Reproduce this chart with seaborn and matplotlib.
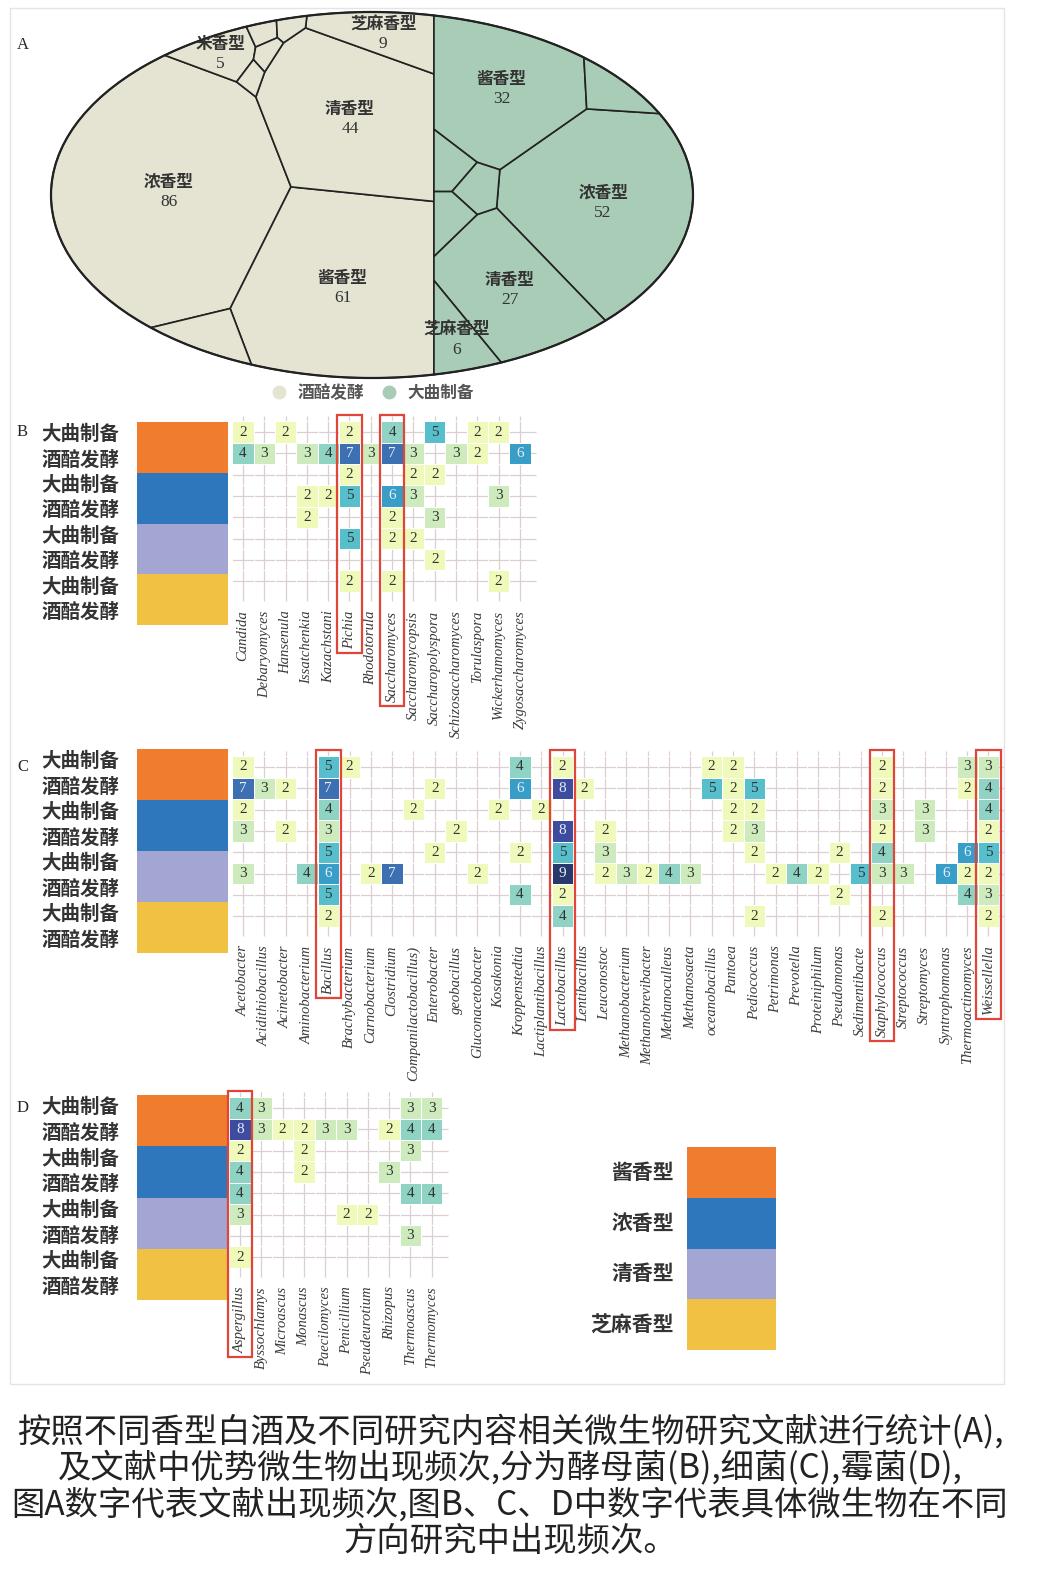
import numpy as np
import pandas as pd
import matplotlib
matplotlib.use('Agg')
import matplotlib.pyplot as plt
import seaborn as sns
from matplotlib.colors import ListedColormap
from matplotlib.patches import Rectangle, Ellipse
from matplotlib.lines import Line2D

# ------------------------------------------------------------------ #
# panel A: number of papers per flavour type (two groups)
ferment_names = ['浓香型', '酱香型', '清香型', '芝麻香型', '米香型', '', '', '', '', '']
ferment_counts = [86, 61, 44, 9, 5, 5, 1, 1, 1, 1]
daqu_names = ['浓香型', '酱香型', '清香型', '芝麻香型', '', '', '', '']
daqu_counts = [52, 32, 27, 6, 4, 3, 3, 3]
group_names = ['酒醅发酵', '大曲制备']

# panels B-D: occurrences of genera
row_labels = ['大曲制备', '酒醅发酵'] * 4
flavor_names = ['酱香型', '浓香型', '清香型', '芝麻香型']

yeast_genera = ['Candida', 'Debaryomyces', 'Hansenula', 'Issatchenkia', 'Kazachstani',
                'Pichia', 'Rhodotorula', 'Saccharomyces', 'Saccharomycopsis',
                'Saccharopolyspora', 'Schizosaccharomyces', 'Torulaspora',
                'Wickerhamomyces', 'Zygosaccharomyces']
yeast_counts = [
    [2, 0, 2, 0, 0, 2, 0, 4, 0, 5, 0, 2, 2, 0],
    [4, 3, 0, 3, 4, 7, 3, 7, 3, 0, 3, 2, 0, 6],
    [0, 0, 0, 0, 0, 2, 0, 0, 2, 2, 0, 0, 0, 0],
    [0, 0, 0, 2, 2, 5, 0, 6, 3, 0, 0, 0, 3, 0],
    [0, 0, 0, 2, 0, 0, 0, 2, 0, 3, 0, 0, 0, 0],
    [0, 0, 0, 0, 0, 5, 0, 2, 2, 0, 0, 0, 0, 0],
    [0, 0, 0, 0, 0, 0, 0, 0, 0, 2, 0, 0, 0, 0],
    [0, 0, 0, 0, 0, 2, 0, 2, 0, 0, 0, 0, 2, 0],
]
yeast_marked = ['Pichia', 'Saccharomyces']

bacteria_genera = ['Acetobacter', 'Acidithiobacillus', 'Acinetobacter', 'Aminobacterium',
                   'Bacillus', 'Brachybacterium', 'Carnobacterium', 'Clostridium',
                   'Companilactobacillus)', 'Enterobacter', 'geobacillus',
                   'Gluconacetobacter', 'Kosakonia', 'Kroppenstedtia',
                   'Lactiplantibacillus', 'Lactobacillus', 'Lentibacillus', 'Leuconostoc',
                   'Methanobacterium', 'Methanobrevibacter', 'Methanoculleus',
                   'Methanosaeta', 'oceanobacillus', 'Pantoea', 'Pediococcus',
                   'Petrimonas', 'Prevotella', 'Proteiniphilum', 'Pseudomonas',
                   'Sedimentibacte', 'Staphylococcus', 'Streptococcus', 'Streptomyces',
                   'Syntrophomonas', 'Thermoactinomyces', 'Weissellella']
bacteria_counts = [
    [2, 0, 0, 0, 5, 2, 0, 0, 0, 0, 0, 0, 0, 4, 0, 2, 0, 0, 0, 0,
     0, 0, 2, 2, 0, 0, 0, 0, 0, 0, 2, 0, 0, 0, 3, 3],
    [7, 3, 2, 0, 7, 0, 0, 0, 0, 2, 0, 0, 0, 6, 0, 8, 2, 0, 0, 0,
     0, 0, 5, 2, 5, 0, 0, 0, 0, 0, 2, 0, 0, 0, 2, 4],
    [2, 0, 0, 0, 4, 0, 0, 0, 2, 0, 0, 0, 2, 0, 2, 0, 0, 0, 0, 0,
     0, 0, 0, 2, 2, 0, 0, 0, 0, 0, 3, 0, 3, 0, 0, 4],
    [3, 0, 2, 0, 3, 0, 0, 0, 0, 0, 2, 0, 0, 0, 0, 8, 0, 2, 0, 0,
     0, 0, 0, 2, 3, 0, 0, 0, 0, 0, 2, 0, 3, 0, 0, 2],
    [0, 0, 0, 0, 5, 0, 0, 0, 0, 2, 0, 0, 0, 2, 0, 5, 0, 3, 0, 0,
     0, 0, 0, 0, 2, 0, 0, 0, 2, 0, 4, 0, 0, 0, 6, 5],
    [3, 0, 0, 4, 6, 0, 2, 7, 0, 0, 0, 2, 0, 0, 0, 9, 0, 2, 3, 2,
     4, 3, 0, 0, 0, 2, 4, 2, 0, 5, 3, 3, 0, 6, 2, 2],
    [0, 0, 0, 0, 5, 0, 0, 0, 0, 0, 0, 0, 0, 4, 0, 2, 0, 0, 0, 0,
     0, 0, 0, 0, 0, 0, 0, 0, 2, 0, 0, 0, 0, 0, 4, 3],
    [0, 0, 0, 0, 2, 0, 0, 0, 0, 0, 0, 0, 0, 0, 0, 4, 0, 0, 0, 0,
     0, 0, 0, 0, 2, 0, 0, 0, 0, 0, 2, 0, 0, 0, 0, 2],
]
bacteria_marked = ['Bacillus', 'Lactobacillus', 'Staphylococcus', 'Weissellella']

mould_genera = ['Aspergillus', 'Byssochlamys', 'Microascus', 'Monascus', 'Paecilomyces',
                'Penicillium', 'Pseudeurotium', 'Rhizopus', 'Thermoascus', 'Thermomyces']
mould_counts = [
    [4, 3, 0, 0, 0, 0, 0, 0, 3, 3],
    [8, 3, 2, 2, 3, 3, 0, 2, 4, 4],
    [2, 0, 0, 2, 0, 0, 0, 0, 3, 0],
    [4, 0, 0, 2, 0, 0, 0, 3, 0, 0],
    [4, 0, 0, 0, 0, 0, 0, 0, 4, 4],
    [3, 0, 0, 0, 0, 2, 2, 0, 0, 0],
    [0, 0, 0, 0, 0, 0, 0, 0, 3, 0],
    [2, 0, 0, 0, 0, 0, 0, 0, 0, 0],
]
mould_marked = ['Aspergillus']

caption = ['按照不同香型白酒及不同研究内容相关微生物研究文献进行统计(A),',
           '及文献中优势微生物出现频次,分为酵母菌(B),细菌(C),霉菌(D),',
           '图A数字代表文献出现频次,图B、C、D中数字代表具体微生物在不同',
           '方向研究中出现频次。']

# ------------------------------------------------------------------ #
W, H = 1040, 1593
flavor_colors = ['#ef7d2d', '#2f77bd', '#a3a5d3', '#f1c143']
group_colors = ['#e5e3d1', '#a9ccb6']
# YlGnBu classes, slightly faded towards white like the printed figure
ylgnbu = plt.get_cmap('YlGnBu')(np.linspace(0, 1, 9))[:, :3]
heat_cmap = ListedColormap(ylgnbu * 0.88 + 0.12)
serif = ['Liberation Serif', 'DejaVu Serif']
cjk = ['Noto Sans CJK SC', 'DejaVu Sans']

sns.set_style('white')
plt.rcParams['font.family'] = cjk

fig = plt.figure(figsize=(W / 100, H / 100), dpi=100)


def px_axes(x0, y0, x1, y1):
    return fig.add_axes([x0 / W, 1 - y1 / H, (x1 - x0) / W, (y1 - y0) / H])


def fx(x):
    return x / W


def fy(y):
    return 1 - y / H


# ---------------------- power diagram helpers ---------------------- #
def clip(poly, a, b):
    if len(poly) == 0:
        return poly
    f = poly @ a - b
    nxt = np.roll(poly, -1, axis=0)
    fn = np.roll(f, -1)
    inside = f <= 0
    cross = (f * fn) < 0
    t = f / np.where(cross, f - fn, 1.0)
    inter = poly + t[:, None] * (nxt - poly)
    pts = np.stack([poly, inter], axis=1)
    keep = np.stack([inside, cross], axis=1)
    return pts[keep]


def poly_area(p):
    if len(p) < 3:
        return 0.0
    x, y = p[:, 0], p[:, 1]
    return 0.5 * abs(np.dot(x, np.roll(y, -1)) - np.dot(y, np.roll(x, -1)))


def poly_centroid(p):
    x, y = p[:, 0], p[:, 1]
    xn, yn = np.roll(x, -1), np.roll(y, -1)
    cr = x * yn - xn * y
    A = cr.sum() / 2
    return np.array([((x + xn) * cr).sum() / (6 * A), ((y + yn) * cr).sum() / (6 * A)])


def power_cells(region, seeds, w):
    cells = []
    for i in range(len(seeds)):
        poly = region
        for j in range(len(seeds)):
            if i == j:
                continue
            a = 2 * (seeds[j] - seeds[i])
            b = seeds[j] @ seeds[j] - seeds[i] @ seeds[i] - w[j] + w[i]
            poly = clip(poly, a, b)
            if len(poly) == 0:
                break
        cells.append(poly)
    return cells


def voronoi_treemap(region, seeds, counts):
    seeds = np.asarray(seeds, float)
    counts = np.asarray(counts, float)
    target = poly_area(region) * counts / counts.sum()
    w = np.zeros(len(seeds))
    for it in range(500):
        cells = power_cells(region, seeds, w)
        areas = np.array([poly_area(c) for c in cells])
        w += 0.4 * (target - areas)
    return power_cells(region, seeds, w)


# ---------------------------- panel A ---------------------------- #
axA = px_axes(40, 5, 705, 410)
axA.set_xlim(40, 705)
axA.set_ylim(410, 5)
axA.axis('off')

cx, cy, ea, eb = 372, 195, 321, 183
th = np.linspace(0, 2 * np.pi, 360, endpoint=False)
ellipse = np.column_stack([cx + ea * np.cos(th), cy + eb * np.sin(th)])

# split the ellipse so that both halves are proportional to the totals
frac = sum(ferment_counts) / (sum(ferment_counts) + sum(daqu_counts))
lo, hi = cx - ea, cx + ea
for _ in range(60):
    mid = (lo + hi) / 2
    if poly_area(clip(ellipse, np.array([1.0, 0.0]), mid)) / poly_area(ellipse) < frac:
        lo = mid
    else:
        hi = mid
split = (lo + hi) / 2
left_region = clip(ellipse, np.array([1.0, 0.0]), split)
right_region = clip(ellipse, np.array([-1.0, 0.0]), -split)

ferment_seeds = [(165, 195), (345, 285), (362, 118), (390, 40), (218, 52),
                 (200, 340), (262, 32), (302, 30), (275, 62), (255, 80)]
daqu_seeds = [(607, 210), (523, 90), (519, 295), (452, 350), (615, 85),
              (458, 175), (487, 200), (458, 232)]

for region, seeds, counts, names, col in [
        (left_region, ferment_seeds, ferment_counts, ferment_names, group_colors[0]),
        (right_region, daqu_seeds, daqu_counts, daqu_names, group_colors[1])]:
    cells = voronoi_treemap(region, seeds, counts)
    for cell, n, name in zip(cells, counts, names):
        if len(cell) < 3:
            continue
        axA.fill(cell[:, 0], cell[:, 1], fc=col, ec='#222222', lw=1.2, zorder=1)
        if name:
            c = poly_centroid(cell)
            axA.text(c[0], c[1] - 10, name, ha='center', va='center', fontsize=12,
                     weight='bold', color='#333333', zorder=3)
            axA.text(c[0], c[1] + 10, str(n), ha='center', va='center', fontsize=12.5,
                     family=serif, color='#333333', zorder=3)

axA.add_patch(Ellipse((cx, cy), 2 * ea, 2 * eb, fill=False, ec='#222222', lw=1.6, zorder=2))
handles = [Line2D([], [], ls='', marker='o', ms=10, mfc=c, mec='none') for c in group_colors]
axA.legend(handles, group_names, loc='center', bbox_to_anchor=(368, 393),
           bbox_transform=axA.transData, ncol=2, frameon=False, handletextpad=0.1,
           columnspacing=0.5, prop={'size': 12, 'weight': 'bold'}, labelcolor='#555555')


# ------------------------- panels B, C, D ------------------------- #
CELL = 21.3


def side_bar(top, bottom):
    ax = px_axes(137, top, 228, bottom)
    df = pd.DataFrame({'t': [0, 0, 1, 1, 2, 2, 3, 3]}, index=row_labels)
    sns.heatmap(df, cmap=ListedColormap(flavor_colors), vmin=-0.5, vmax=3.5, cbar=False,
                xticklabels=False, yticklabels=True, ax=ax)
    ax.set_yticklabels(row_labels, rotation=0, fontsize=14, weight='bold', color='#333333')
    ax.tick_params(left=False, pad=9)


def heat_panel(x_center, y_center, counts, genera, marked):
    n = len(genera)
    x0, y0 = x_center - CELL / 2, y_center - CELL / 2
    ax = px_axes(x0, y0, x0 + n * CELL, y0 + 8 * CELL)
    df = pd.DataFrame(counts, index=row_labels, columns=genera)
    ax.vlines(np.arange(n) + 0.5, -0.25, 8.45, color='#dccfd1', lw=0.9, zorder=0.5,
              clip_on=False)
    ax.hlines(np.arange(8) + 0.5, 0, n + 0.25, color='#dccfd1', lw=0.9, zorder=0.5,
              clip_on=False)
    sns.heatmap(df, mask=df == 0, cmap=heat_cmap, vmin=0.5, vmax=9.5, cbar=False,
                annot=True, fmt='d', linewidths=0.5, linecolor='white',
                annot_kws={'fontsize': 11, 'family': serif}, yticklabels=False,
                xticklabels=True, ax=ax)
    for t in ax.texts:
        t.set_color('#e8eef8' if int(t.get_text()) >= 6 else '#333333')
    ax.set_xticklabels(genera, rotation=90, fontsize=10.5, family=serif, style='italic',
                       color='#3a3a3a')
    ax.tick_params(bottom=False, pad=10)
    for s in ax.spines.values():
        s.set_visible(False)
    return ax


panels = [
    ('B', 432, 422, 625, yeast_counts, yeast_genera, yeast_marked),
    ('C', 767, 749, 953, bacteria_counts, bacteria_genera, bacteria_marked),
    ('D', 1108, 1095, 1300, mould_counts, mould_genera, mould_marked),
]
heat_axes = []
for letter, yc, top, bottom, counts, genera, marked in panels:
    fig.text(fx(17), fy(yc), letter, fontsize=12, family=serif, ha='left', va='center')
    side_bar(top, bottom)
    ax = heat_panel(243 if letter != 'D' else 240, yc, counts, genera, marked)
    heat_axes.append((ax, genera, marked))

fig.text(fx(17), fy(45), 'A', fontsize=12, family=serif, ha='left', va='center')

# legend of flavour types
axL = px_axes(687, 1147, 776, 1350)
sns.heatmap(pd.DataFrame({'k': [0, 1, 2, 3]}, index=flavor_names),
            cmap=ListedColormap(flavor_colors), vmin=-0.5, vmax=3.5, cbar=False,
            xticklabels=False, yticklabels=True, ax=axL)
axL.set_yticklabels(flavor_names, rotation=0, fontsize=15, weight='bold', color='#333333')
axL.tick_params(left=False, pad=6)

# red frames around the dominant genera (down to the end of the tick label)
fig.canvas.draw()
for ax, genera, marked in heat_axes:
    labels = ax.get_xticklabels()
    inv = ax.transData.inverted()
    for g in marked:
        i = genera.index(g)
        bb = labels[i].get_window_extent()
        ybot = inv.transform((0, bb.y0 - 4))[1]
        ax.add_patch(Rectangle((i - 0.08, -0.3), 1.16, ybot + 0.3, fill=False,
                               ec='#e0453a', lw=1.6, clip_on=False, zorder=5))

# outer frame and caption
fig.add_artist(Rectangle((fx(10), fy(1384)), (1004 - 10) / W, (1384 - 8) / H,
                         transform=fig.transFigure, fill=False, ec='#e4e4e4', lw=1))
for k, line in enumerate(caption):
    fig.text(fx(510), fy(1433 + 36 * k), line, ha='center', va='center', fontsize=24,
             color='#222222')

fig.savefig('out.png', dpi=100)
